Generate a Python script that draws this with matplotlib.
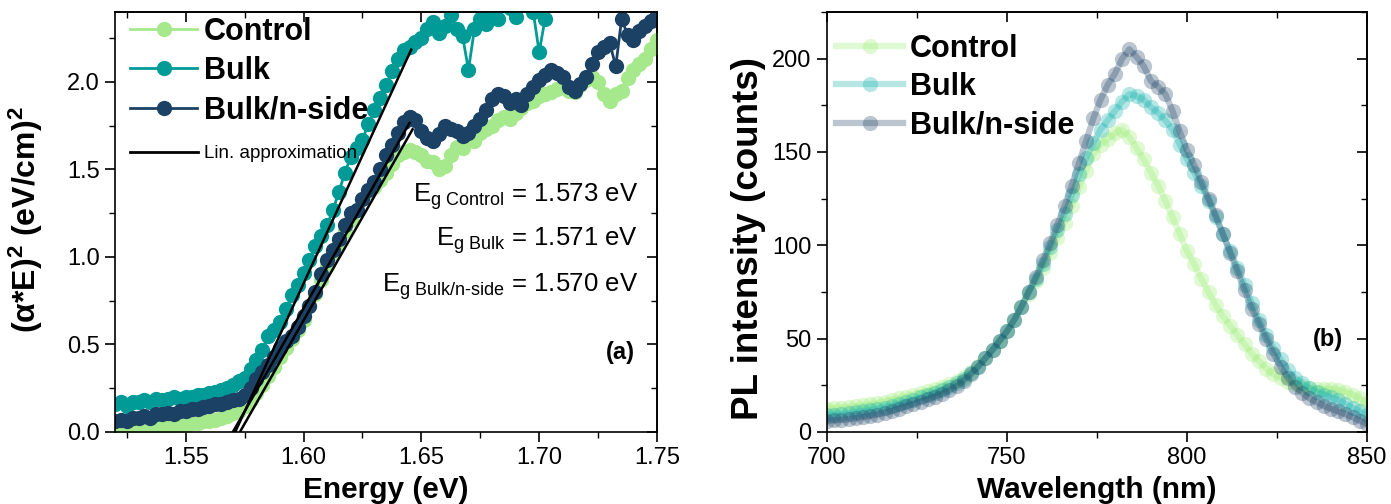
import numpy as np
import matplotlib
matplotlib.use("Agg")
import matplotlib.pyplot as plt
from matplotlib.ticker import MultipleLocator
from matplotlib.lines import Line2D

plt.rcParams['font.family'] = ['Liberation Sans', 'DejaVu Sans']
plt.rcParams['mathtext.fontset'] = 'custom'
plt.rcParams['mathtext.rm'] = 'Liberation Sans'
plt.rcParams['mathtext.it'] = 'Liberation Sans:italic'
plt.rcParams['mathtext.bf'] = 'Liberation Sans:bold'

# ---------------- data: panel (a) ----------------
series_names = ["Control", "Bulk", "Bulk/n-side"]
energy_start, energy_step, energy_count = 1.52, 0.0025, 93
energy = np.round(energy_start + energy_step * np.arange(energy_count), 4)

abs_control = [0.01, 0.02, 0.01, 0.02, 0.02, 0.03, 0.02, 0.03, 0.03, 0.04,
               0.03, 0.04, 0.04, 0.05, 0.05, 0.06, 0.06, 0.07, 0.08, 0.09,
               0.11, 0.12, 0.15, 0.18, 0.22, 0.27, 0.32, 0.37, 0.43, 0.48,
               0.53, 0.58, 0.64, 0.72, 0.79, 0.87, 0.95, 1.02, 1.08, 1.15,
               1.21, 1.27, 1.33, 1.37, 1.40, 1.44, 1.48, 1.53, 1.58, 1.60,
               1.61, 1.60, 1.58, 1.55, 1.54, 1.50, 1.52, 1.58, 1.63, 1.62,
               1.67, 1.66, 1.71, 1.73, 1.75, 1.78, 1.80, 1.79, 1.82, 1.85,
               1.88, 1.89, 1.92, 1.93, 1.94, 1.96, 1.98, 1.95, 1.94, 1.98,
               2.01, 2.03, 2.00, 1.93, 1.89, 1.93, 1.95, 2.02, 2.07, 2.10,
               2.13, 2.19, 2.24]

abs_bulk = [0.16, 0.17, 0.15, 0.17, 0.17, 0.18, 0.17, 0.19, 0.18, 0.19,
            0.20, 0.19, 0.20, 0.20, 0.21, 0.21, 0.22, 0.23, 0.24, 0.25,
            0.27, 0.29, 0.31, 0.36, 0.41, 0.47, 0.55, 0.58, 0.63, 0.70,
            0.78, 0.84, 0.91, 0.98, 1.06, 1.12, 1.18, 1.27, 1.37, 1.48,
            1.57, 1.62, 1.67, 1.76, 1.84, 1.91, 1.98, 2.06, 2.13, 2.18,
            2.20, 2.23, 2.25, 2.30, 2.34, 2.28, 2.32, 2.38, 2.30, 2.26,
            2.07, 2.30, 2.36, 2.33, 2.40, 2.36, 2.45, 2.42, 2.37, 2.44,
            2.48, 2.40, 2.17, 2.36, 2.50, 2.52, 2.55, 2.58, 2.60, 2.62,
            2.65, 2.66, 2.68, 2.70, 2.72, 2.74, 2.75, 2.77, 2.79, 2.80,
            2.82, 2.84, 2.86]

abs_nside = [0.06, 0.07, 0.06, 0.08, 0.08, 0.09, 0.08, 0.10, 0.10, 0.11,
             0.10, 0.12, 0.12, 0.13, 0.13, 0.14, 0.15, 0.16, 0.16, 0.17,
             0.18, 0.19, 0.21, 0.25, 0.30, 0.34, 0.38, 0.43, 0.48, 0.52,
             0.55, 0.60, 0.66, 0.72, 0.80, 0.90, 0.98, 1.04, 1.10, 1.18,
             1.25, 1.27, 1.33, 1.38, 1.43, 1.50, 1.58, 1.64, 1.71, 1.77,
             1.80, 1.78, 1.72, 1.68, 1.66, 1.70, 1.75, 1.73, 1.72, 1.69,
             1.71, 1.75, 1.79, 1.84, 1.90, 1.93, 1.92, 1.88, 1.90, 1.87,
             1.93, 1.97, 2.01, 2.04, 2.07, 2.05, 2.03, 1.97, 1.95, 1.99,
             2.03, 2.10, 2.17, 2.20, 2.22, 2.09, 2.36, 2.27, 2.24, 2.29,
             2.32, 2.35, 2.38]

# linear fits: band gap (x-intercept) and upper end of each fitted line
fit_eg = [1.573, 1.571, 1.570]
fit_end_energy = [1.6463, 1.6457, 1.6450]
fit_end_value = [1.73, 2.185, 1.766]
eg_labels = ["Control", "Bulk", "Bulk/n-side"]

# ---------------- data: panel (b) ----------------
wl_start, wl_step, wl_count = 700, 2, 76
wavelength = wl_start + wl_step * np.arange(wl_count)

pl_control = [12.5, 12.8, 13.1, 13.4, 13.8, 14.2, 14.8, 15.5, 16.3, 17.2,
              18.0, 19.0, 20.0, 21.0, 22.0, 23.0, 24.3, 25.8, 27.5, 29.5,
              32, 35.5, 39.5, 44, 49, 54, 60, 67, 74, 81,
              88, 96, 104, 112, 121, 131, 140, 149, 154, 157,
              160, 162, 158, 152, 146, 139, 132, 124, 115, 106,
              97, 90, 82, 75, 68, 62, 57, 52, 47, 42,
              38, 34, 31, 29, 27, 25.5, 24.5, 23.5, 23, 23,
              23, 22.5, 21.5, 20, 18, 15.5]

pl_bulk = [9, 9.3, 9.6, 10, 10.5, 11, 11.6, 12.3, 13.1, 14,
           15, 16, 17.2, 18.5, 19.8, 21, 22.5, 24, 26, 28.5,
           31.5, 35, 39.5, 44, 49, 54, 60, 67, 75, 82,
           90, 99, 108, 117, 127, 138, 147, 155, 162, 167,
           172, 177, 181, 180, 178, 174, 171, 167, 162, 154,
           146, 139, 132, 124, 115, 106, 97, 88, 79, 69,
           60, 52, 45, 39, 33, 29, 26, 23.5, 21.5, 20,
           18.5, 17, 15, 13, 11, 9]

pl_nside = [6, 6.2, 6.4, 6.8, 7.3, 8, 8.6, 9.3, 10.2, 11.2,
            12.5, 13.8, 15, 16.3, 17.6, 19, 20.5, 22.3, 24.5, 27.5,
            31, 35, 39.5, 44, 49, 54, 60, 67, 75, 83,
            92, 101, 111, 121, 132, 144, 156, 168, 178, 186,
            192, 200, 205, 201, 196, 188, 185, 181, 172, 161,
            151, 143, 134, 125, 116, 106, 96, 86, 76, 66,
            58, 50, 42, 35, 29, 24, 21, 18, 16, 14,
            12.5, 11, 9.5, 8, 6, 4.5]

colors = ["#a6e88c", "#009b97", "#1b4265"]
pl_colors = ["#98ec70", "#0fb0ac", "#1b4265"]

# ---------------- figure ----------------
fig = plt.figure(figsize=(13.91, 5.04), dpi=100)
axA = fig.add_axes([0.0827, 0.1429, 0.3896, 0.8333])
axB = fig.add_axes([0.5945, 0.1429, 0.3882, 0.8333])


def style_axes(ax, xmaj, xmin, ymaj, ymin):
    ax.xaxis.set_major_locator(MultipleLocator(xmaj))
    ax.xaxis.set_minor_locator(MultipleLocator(xmin))
    ax.yaxis.set_major_locator(MultipleLocator(ymaj))
    ax.yaxis.set_minor_locator(MultipleLocator(ymin))
    ax.tick_params(which='major', direction='out', length=7, width=1.2,
                   labelsize=17, pad=4)
    ax.tick_params(which='minor', direction='out', length=4, width=1.0)
    for s in ax.spines.values():
        s.set_linewidth(1.2)
    top = ax.secondary_xaxis('top')
    top.xaxis.set_major_locator(MultipleLocator(xmaj))
    top.xaxis.set_minor_locator(MultipleLocator(xmin))
    top.tick_params(which='major', direction='in', length=7, width=1.2, labeltop=False)
    top.tick_params(which='minor', direction='in', length=4, width=1.0)
    right = ax.secondary_yaxis('right')
    right.yaxis.set_major_locator(MultipleLocator(ymaj))
    right.yaxis.set_minor_locator(MultipleLocator(ymin))
    right.tick_params(which='major', direction='in', length=7, width=1.2, labelright=False)
    right.tick_params(which='minor', direction='in', length=4, width=1.0)
    top.spines['top'].set_linewidth(1.2)
    right.spines['right'].set_linewidth(1.2)


# ----- panel (a)
handles = []
for vals, name, c in zip([abs_control, abs_bulk, abs_nside], series_names, colors):
    h, = axA.plot(energy, vals, '-o', color=c, lw=2.0, ms=11, mew=0, label=name)
    handles.append(h)

for eg, xe, ye in zip(fit_eg, fit_end_energy, fit_end_value):
    axA.plot([eg, xe], [0, ye], color='black', lw=1.8, zorder=5)
lin_handle = Line2D([], [], color='black', lw=2.0, label='Lin. approximation')

axA.set_xlim(1.52, 1.75)
axA.set_ylim(0, 2.4)
style_axes(axA, 0.05, 0.025, 0.5, 0.25)
axA.set_xlabel("Energy (eV)", fontsize=21.5, fontweight='bold', labelpad=5)
axA.set_ylabel(r"($\mathregular{\alpha}$*E)$^{\mathbf{2}}$ (eV/cm)$^{\mathbf{2}}$",
               fontsize=23, fontweight='bold')
axA.yaxis.set_label_coords(-0.13, 0.505)

legA = axA.legend(handles=handles, loc='upper left', bbox_to_anchor=(0.0277, 0.989),
                  frameon=False, prop={'size': 22, 'weight': 'bold'},
                  handlelength=2.2, handletextpad=0.22, labelspacing=0.31,
                  borderaxespad=0.0, borderpad=0.0)
axA.add_artist(legA)
axA.legend(handles=[lin_handle], loc='upper left', bbox_to_anchor=(0.0277, 0.683),
           frameon=False, prop={'size': 13.5},
           handlelength=3.6, handletextpad=0.35,
           borderaxespad=0.0, borderpad=0.0)

for lab, eg, yy in zip(eg_labels, fit_eg, [0.548, 0.443, 0.333]):
    axA.text(0.965, yy, r"E$_{\text{g " + lab + r"}}$ = " + f"{eg:.3f} eV",
             transform=axA.transAxes, ha='right', va='baseline', fontsize=18.5)
axA.text(0.96, 0.19, "(a)", transform=axA.transAxes, ha='right', va='center',
         fontsize=17, fontweight='bold')

# ----- panel (b)
for vals, name, c in zip([pl_control, pl_bulk, pl_nside], series_names, pl_colors):
    axB.plot(wavelength, vals, '-o', color=c, lw=4.5, ms=11, mew=0, alpha=0.3, label=name)

axB.set_xlim(700, 850)
axB.set_ylim(0, 225)
style_axes(axB, 50, 25, 50, 25)
axB.set_xlabel("Wavelength (nm)", fontsize=21.5, fontweight='bold', labelpad=5)
axB.set_ylabel("PL intensity (counts)", fontsize=26.5, fontweight='bold')
axB.yaxis.set_label_coords(-0.112, 0.46)
axB.legend(loc='upper left', bbox_to_anchor=(0.0166, 0.948),
           frameon=False, prop={'size': 22, 'weight': 'bold'},
           handlelength=2.2, handletextpad=0.22, labelspacing=0.27,
           borderaxespad=0.0, borderpad=0.0)
axB.text(0.955, 0.22, "(b)", transform=axB.transAxes, ha='right', va='center',
         fontsize=17, fontweight='bold')

fig.savefig("out.png", dpi=100)
